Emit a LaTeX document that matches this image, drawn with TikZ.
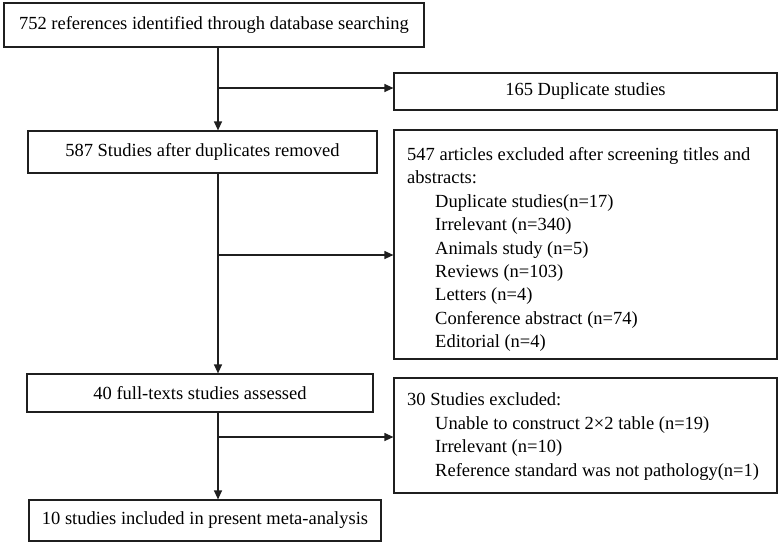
\documentclass[tikz,border=0pt]{standalone}
\usepackage{fontspec}
\setmainfont{Liberation Serif}
\usetikzlibrary{arrows.meta}
\tikzset{
  box/.style={draw=black!88, line width=1.2pt, rectangle, inner sep=0pt, align=center},
  arr/.style={draw=black!88, line width=1.2pt, -{Triangle[length=9pt,width=8pt]}},
  ln/.style={draw=black!88, line width=1.2pt},
  txt/.style={anchor=west, align=left, inner sep=0pt}
}
\begin{document}
\begin{tikzpicture}[x=1pt,y=-1pt,font=\fontsize{18.5}{23.4}\selectfont]
\useasboundingbox (0,0) rectangle (779,542);
\node[box, minimum width=420pt, minimum height=44pt] (n1) at (214,25) {752 references identified through database searching};
\node[box, minimum width=383pt, minimum height=37pt] (n2) at (585.5,91.5) {165 Duplicate studies};
\node[box, minimum width=349pt, minimum height=42pt] (n3) at (202.5,152) {587 Studies after duplicates removed};
\node[box, minimum width=383pt, minimum height=229pt] (n4) at (585.5,244.5) {};
\node[txt] (t4) at (407,249.5) {547 articles excluded after screening titles and\\
abstracts:\\
\hspace*{28pt}Duplicate studies(n=17)\\
\hspace*{28pt}Irrelevant (n=340)\\
\hspace*{28pt}Animals study (n=5)\\
\hspace*{28pt}Reviews (n=103)\\
\hspace*{28pt}Letters (n=4)\\
\hspace*{28pt}Conference abstract (n=74)\\
\hspace*{28pt}Editorial (n=4)};
\node[box, minimum width=346pt, minimum height=38pt] (n5) at (200,393) {40 full-texts studies assessed};
\node[box, minimum width=383pt, minimum height=115pt] (n6) at (585.5,435.5) {};
\node[txt] (t6) at (407,436.5) {30 Studies excluded:\\
\hspace*{28pt}Unable to construct 2×2 table (n=19)\\
\hspace*{28pt}Irrelevant (n=10)\\
\hspace*{28pt}Reference standard was not pathology(n=1)};
\node[box, minimum width=352pt, minimum height=41pt] (n7) at (205,520.5) {10 studies included in present meta-analysis};
\coordinate (v) at (218,0);
\coordinate (b1) at (218,88);
\coordinate (b2) at (218,255);
\coordinate (b3) at (218,437);
\draw[arr] (n1.south -| v) -- (n3.north -| v);
\draw[arr] (b1) -- (b1 -| n2.west);
\draw[arr] (n3.south -| v) -- (n5.north -| v);
\draw[arr] (b2) -- (b2 -| n4.west);
\draw[arr] (n5.south -| v) -- (n7.north -| v);
\draw[arr] (b3) -- (b3 -| n6.west);
\end{tikzpicture}
\end{document}
